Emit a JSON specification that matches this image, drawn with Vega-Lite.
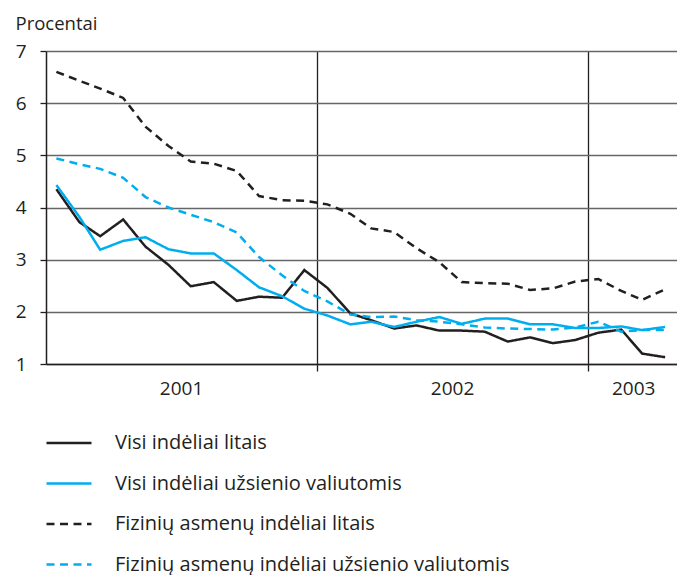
{
  "$schema": "https://vega.github.io/schema/vega-lite/v6.json",
  "width": 631,
  "height": 313,
  "autosize": {"type": "none"},
  "padding": {"left": 46, "top": 51, "right": 0, "bottom": 211},
  "background": "white",
  "config": {
    "view": {"stroke": null},
    "font": "Open Sans",
    "axis": {"labelFont": "Open Sans", "titleFont": "Open Sans", "labelColor": "#231f20", "titleColor": "#231f20"},
    "legend": {"labelFont": "Open Sans"}
  },
  "data": {
    "values": [
      {"d": "2001-01-15", "Visi indėliai litais": 4.35, "Visi indėliai užsienio valiutomis": 4.43, "Fizinių asmenų indėliai litais": 6.6, "Fizinių asmenų indėliai užsienio valiutomis": 4.94},
      {"d": "2001-02-15", "Visi indėliai litais": 3.72, "Visi indėliai užsienio valiutomis": 3.82, "Fizinių asmenų indėliai litais": 6.43, "Fizinių asmenų indėliai užsienio valiutomis": 4.83},
      {"d": "2001-03-15", "Visi indėliai litais": 3.45, "Visi indėliai užsienio valiutomis": 3.19, "Fizinių asmenų indėliai litais": 6.28, "Fizinių asmenų indėliai užsienio valiutomis": 4.74},
      {"d": "2001-04-15", "Visi indėliai litais": 3.77, "Visi indėliai užsienio valiutomis": 3.36, "Fizinių asmenų indėliai litais": 6.1, "Fizinių asmenų indėliai užsienio valiutomis": 4.57},
      {"d": "2001-05-15", "Visi indėliai litais": 3.25, "Visi indėliai užsienio valiutomis": 3.43, "Fizinių asmenų indėliai litais": 5.55, "Fizinių asmenų indėliai užsienio valiutomis": 4.2},
      {"d": "2001-06-15", "Visi indėliai litais": 2.9, "Visi indėliai užsienio valiutomis": 3.2, "Fizinių asmenų indėliai litais": 5.18, "Fizinių asmenų indėliai užsienio valiutomis": 4.0},
      {"d": "2001-07-15", "Visi indėliai litais": 2.49, "Visi indėliai užsienio valiutomis": 3.12, "Fizinių asmenų indėliai litais": 4.88, "Fizinių asmenų indėliai užsienio valiutomis": 3.86},
      {"d": "2001-08-15", "Visi indėliai litais": 2.57, "Visi indėliai užsienio valiutomis": 3.12, "Fizinių asmenų indėliai litais": 4.84, "Fizinių asmenų indėliai užsienio valiutomis": 3.72},
      {"d": "2001-09-15", "Visi indėliai litais": 2.21, "Visi indėliai užsienio valiutomis": 2.8, "Fizinių asmenų indėliai litais": 4.7, "Fizinių asmenų indėliai užsienio valiutomis": 3.52},
      {"d": "2001-10-15", "Visi indėliai litais": 2.29, "Visi indėliai užsienio valiutomis": 2.47, "Fizinių asmenų indėliai litais": 4.22, "Fizinių asmenų indėliai užsienio valiutomis": 3.05},
      {"d": "2001-11-15", "Visi indėliai litais": 2.27, "Visi indėliai užsienio valiutomis": 2.3, "Fizinių asmenų indėliai litais": 4.14, "Fizinių asmenų indėliai užsienio valiutomis": 2.7},
      {"d": "2001-12-15", "Visi indėliai litais": 2.8, "Visi indėliai užsienio valiutomis": 2.06, "Fizinių asmenų indėliai litais": 4.13, "Fizinių asmenų indėliai užsienio valiutomis": 2.4},
      {"d": "2002-01-15", "Visi indėliai litais": 2.46, "Visi indėliai užsienio valiutomis": 1.93, "Fizinių asmenų indėliai litais": 4.06, "Fizinių asmenų indėliai užsienio valiutomis": 2.2},
      {"d": "2002-02-15", "Visi indėliai litais": 1.97, "Visi indėliai užsienio valiutomis": 1.76, "Fizinių asmenų indėliai litais": 3.88, "Fizinių asmenų indėliai užsienio valiutomis": 1.95},
      {"d": "2002-03-15", "Visi indėliai litais": 1.84, "Visi indėliai užsienio valiutomis": 1.81, "Fizinių asmenų indėliai litais": 3.6, "Fizinių asmenų indėliai užsienio valiutomis": 1.9},
      {"d": "2002-04-15", "Visi indėliai litais": 1.68, "Visi indėliai užsienio valiutomis": 1.71, "Fizinių asmenų indėliai litais": 3.53, "Fizinių asmenų indėliai užsienio valiutomis": 1.91},
      {"d": "2002-05-15", "Visi indėliai litais": 1.74, "Visi indėliai užsienio valiutomis": 1.81, "Fizinių asmenų indėliai litais": 3.22, "Fizinių asmenų indėliai užsienio valiutomis": 1.84},
      {"d": "2002-06-15", "Visi indėliai litais": 1.64, "Visi indėliai užsienio valiutomis": 1.9, "Fizinių asmenų indėliai litais": 2.95, "Fizinių asmenų indėliai užsienio valiutomis": 1.81},
      {"d": "2002-07-15", "Visi indėliai litais": 1.64, "Visi indėliai užsienio valiutomis": 1.77, "Fizinių asmenų indėliai litais": 2.57, "Fizinių asmenų indėliai užsienio valiutomis": 1.76},
      {"d": "2002-08-15", "Visi indėliai litais": 1.62, "Visi indėliai užsienio valiutomis": 1.87, "Fizinių asmenų indėliai litais": 2.55, "Fizinių asmenų indėliai užsienio valiutomis": 1.7},
      {"d": "2002-09-15", "Visi indėliai litais": 1.43, "Visi indėliai užsienio valiutomis": 1.87, "Fizinių asmenų indėliai litais": 2.54, "Fizinių asmenų indėliai užsienio valiutomis": 1.68},
      {"d": "2002-10-15", "Visi indėliai litais": 1.51, "Visi indėliai užsienio valiutomis": 1.76, "Fizinių asmenų indėliai litais": 2.42, "Fizinių asmenų indėliai užsienio valiutomis": 1.67},
      {"d": "2002-11-15", "Visi indėliai litais": 1.4, "Visi indėliai užsienio valiutomis": 1.76, "Fizinių asmenų indėliai litais": 2.45, "Fizinių asmenų indėliai užsienio valiutomis": 1.66},
      {"d": "2002-12-15", "Visi indėliai litais": 1.46, "Visi indėliai užsienio valiutomis": 1.69, "Fizinių asmenų indėliai litais": 2.58, "Fizinių asmenų indėliai užsienio valiutomis": 1.7},
      {"d": "2003-01-15", "Visi indėliai litais": 1.6, "Visi indėliai užsienio valiutomis": 1.69, "Fizinių asmenų indėliai litais": 2.63, "Fizinių asmenų indėliai užsienio valiutomis": 1.81},
      {"d": "2003-02-15", "Visi indėliai litais": 1.66, "Visi indėliai užsienio valiutomis": 1.72, "Fizinių asmenų indėliai litais": 2.4, "Fizinių asmenų indėliai užsienio valiutomis": 1.62},
      {"d": "2003-03-15", "Visi indėliai litais": 1.2, "Visi indėliai užsienio valiutomis": 1.65, "Fizinių asmenų indėliai litais": 2.23, "Fizinių asmenų indėliai užsienio valiutomis": 1.65},
      {"d": "2003-04-15", "Visi indėliai litais": 1.13, "Visi indėliai užsienio valiutomis": 1.71, "Fizinių asmenų indėliai litais": 2.43, "Fizinių asmenų indėliai užsienio valiutomis": 1.65}
    ]
  },
  "transform": [
    {"fold": ["Visi indėliai litais", "Visi indėliai užsienio valiutomis", "Fizinių asmenų indėliai litais", "Fizinių asmenų indėliai užsienio valiutomis"], "as": ["serija", "reiksme"]}
  ],
  "mark": {"type": "line", "strokeWidth": 2.5, "interpolate": "linear"},
  "encoding": {
    "x": {
      "field": "d", "type": "temporal",
      "scale": {"type": "utc", "domain": [{"year": 2001, "month": 1, "date": 1, "utc": true}, {"year": 2003, "month": 5, "date": 1, "utc": true}]},
      "axis": {
        "title": null,
        "values": [
          {"year": 2001, "month": 7, "date": 2, "utc": true},
          {"year": 2002, "month": 1, "date": 1, "utc": true},
          {"year": 2002, "month": 7, "date": 2, "utc": true},
          {"year": 2003, "month": 1, "date": 1, "utc": true},
          {"year": 2003, "month": 3, "date": 3, "utc": true}
        ],
        "labelExpr": "utcmonth(datum.value) == 0 ? '' : utcFormat(datum.value, '%Y')",
        "labelFontSize": 19,
        "labelPadding": 8,
        "labelFlush": false,
        "labelOverlap": false,
        "domainColor": "#231f20",
        "domainWidth": 1.5,
        "grid": true,
        "gridColor": "#231f20",
        "gridWidth": 1.3,
        "gridOpacity": {"condition": {"test": "utcmonth(datum.value) == 0", "value": 1}, "value": 0},
        "ticks": true,
        "tickSize": 7,
        "tickColor": "#231f20",
        "tickWidth": 1.3,
        "tickOpacity": {"condition": {"test": "utcmonth(datum.value) == 0", "value": 1}, "value": 0}
      }
    },
    "y": {
      "field": "reiksme", "type": "quantitative",
      "scale": {"domain": [1, 7], "nice": false, "zero": false},
      "axis": {
        "title": "Procentai",
        "titleAngle": 0,
        "titleAlign": "left",
        "titleBaseline": "alphabetic",
        "titleX": -31,
        "titleY": -22,
        "titleFontSize": 18.5,
        "titleFontWeight": "normal",
        "values": [1, 2, 3, 4, 5, 6, 7],
        "labelFontSize": 19,
        "labelPadding": 14,
        "tickSize": 6,
        "tickColor": "#231f20",
        "tickWidth": 1.3,
        "domainColor": "#231f20",
        "domainWidth": 1.5,
        "grid": true,
        "gridColor": "#666666",
        "gridWidth": 1.4
      }
    },
    "color": {
      "field": "serija", "type": "nominal",
      "scale": {
        "domain": ["Visi indėliai litais", "Visi indėliai užsienio valiutomis", "Fizinių asmenų indėliai litais", "Fizinių asmenų indėliai užsienio valiutomis"],
        "range": ["#231f20", "#00aeef", "#231f20", "#00aeef"]
      },
      "legend": {
        "title": null,
        "orient": "none",
        "legendX": -1,
        "legendY": 379,
        "direction": "vertical",
        "symbolType": "stroke",
        "symbolSize": 2025,
        "symbolStrokeWidth": 2.5,
        "labelFontSize": 20,
        "labelColor": "#231f20",
        "labelOffset": 22,
        "clipHeight": 26,
        "rowPadding": 14.5,
        "padding": 0,
        "labelLimit": 600
      }
    },
    "strokeDash": {
      "field": "serija", "type": "nominal",
      "scale": {
        "domain": ["Visi indėliai litais", "Visi indėliai užsienio valiutomis", "Fizinių asmenų indėliai litais", "Fizinių asmenų indėliai užsienio valiutomis"],
        "range": [[1, 0], [1, 0], [8, 5.5], [8, 5.5]]
      },
      "legend": {
        "title": null,
        "orient": "none",
        "legendX": -1,
        "legendY": 379,
        "direction": "vertical",
        "symbolType": "stroke",
        "symbolSize": 2025,
        "symbolStrokeWidth": 2.5,
        "labelFontSize": 20,
        "labelColor": "#231f20",
        "labelOffset": 22,
        "clipHeight": 26,
        "rowPadding": 14.5,
        "padding": 0,
        "labelLimit": 600
      }
    }
  }
}
